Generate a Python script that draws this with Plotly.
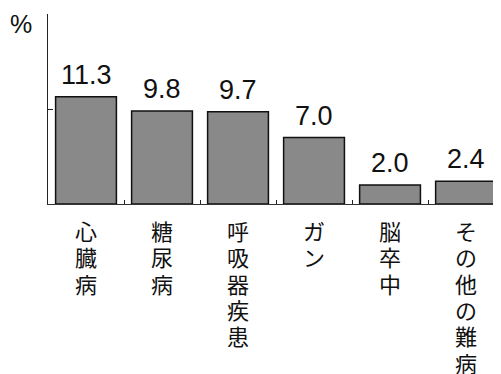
import plotly.graph_objects as go

categories = ["心臓病", "糖尿病", "呼吸器疾患", "ガン", "脳卒中", "その他の難病"]
values = [11.3, 9.8, 9.7, 7.0, 2.0, 2.4]
value_labels = ["11.3", "9.8", "9.7", "7.0", "2.0", "2.4"]
y_ticks = [10, 20]

jp_font = "Noto Sans CJK JP"
num_font = "Liberation Sans, Arial, sans-serif"

fig = go.Figure()
fig.add_trace(go.Bar(
    x=categories, y=values,
    marker=dict(color="#898989", line=dict(color="#111111", width=1.5)),
    width=0.8,
    hoverinfo="skip",
))

# value labels above bars
for cat, v, lab in zip(categories, values, value_labels):
    fig.add_annotation(x=cat, y=v, text=lab, showarrow=False,
                       xref="x", yref="y", yanchor="bottom", yshift=5,
                       font=dict(family=num_font, size=27, color="#111111"))

# vertical Japanese category labels, one character per line (tight pitch)
pitch = 26.3
for cat in categories:
    for i, ch in enumerate(cat):
        fig.add_annotation(x=cat, y=0, text=ch, showarrow=False,
                           xref="x", yref="paper", yanchor="top",
                           yshift=-8 - i * pitch,
                           font=dict(family=jp_font, size=22, color="#111111"))

fig.add_annotation(x=0, y=1, xref="paper", yref="paper", text="%",
                   showarrow=False, xanchor="right", yanchor="top",
                   xshift=-14, yshift=6,
                   font=dict(family=num_font, size=25, color="#111111"))

# page body adds an 8px margin, so the figure is sized to fit the window
fig.update_layout(
    width=493, height=366,
    margin=dict(l=40, r=0, t=6, b=170),
    plot_bgcolor="white", paper_bgcolor="white",
    showlegend=False,
    xaxis=dict(type="category", range=[-0.5, 5.46], showticklabels=False,
               tickson="boundaries", ticks="inside", ticklen=4, tickcolor="#222222",
               showline=True, linecolor="#333333", linewidth=1.2,
               showgrid=False, zeroline=False, fixedrange=True),
    yaxis=dict(range=[0, 20], tickvals=y_ticks, showticklabels=False,
               ticks="inside", ticklen=5, tickcolor="#222222",
               showline=True, linecolor="#222222", linewidth=1,
               showgrid=False, zeroline=False, fixedrange=True),
)

fig.write_html("out.html")
